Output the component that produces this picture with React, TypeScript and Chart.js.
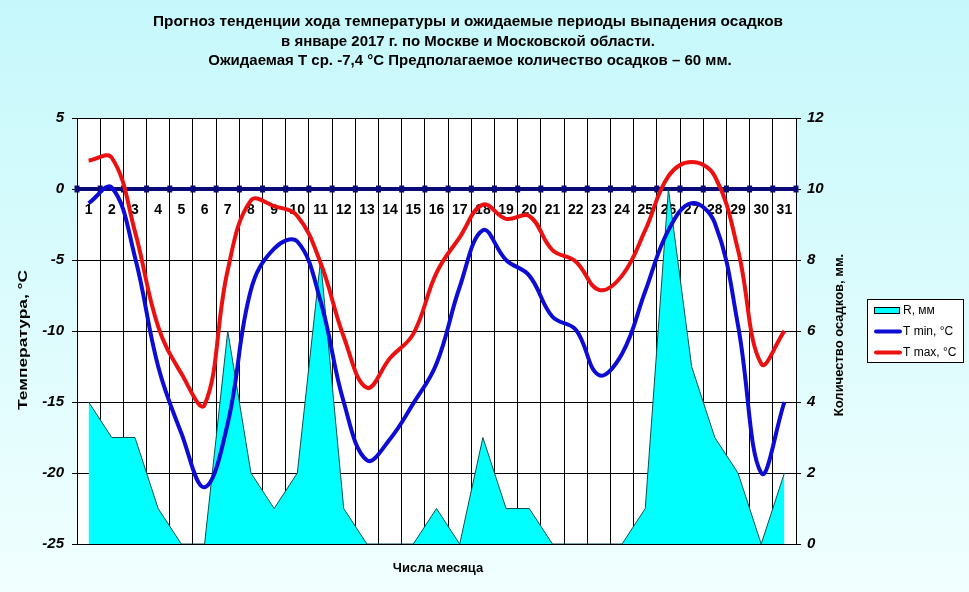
import React, { useEffect, useRef } from 'react';
import { Chart, registerables } from 'chart.js';

Chart.register(...registerables);

const days = ['1','2','3','4','5','6','7','8','9','10','11','12','13','14','15','16','17','18','19','20','21','22','23','24','25','26','27','28','29','30','31'];

const tMax = [2.0, 2.2, -3.0, -9.7, -13.0, -15.2, -5.7, -0.8, -1.2, -1.9, -5.2, -10.4, -14.0, -11.9, -10.2, -5.9, -3.4, -1.1, -2.1, -1.9, -4.3, -5.1, -7.1, -6.1, -2.9, 0.9, 1.9, 0.9, -4.3, -12.3, -10.0];
const tMin = [-1.0, 0.1, -4.8, -12.5, -17.2, -21.0, -16.5, -7.1, -4.2, -3.7, -7.9, -15.0, -19.1, -17.6, -15.1, -12.3, -6.9, -2.9, -5.0, -6.1, -9.0, -9.9, -13.1, -11.6, -7.2, -2.9, -1.0, -2.4, -9.6, -20.0, -15.0];
const precip = [4, 3, 3, 1, 0, 0, 6, 2, 1, 2, 8, 1, 0, 0, 0, 1, 0, 3, 1, 1, 0, 0, 0, 0, 1, 10, 5, 3, 2, 0, 2];

const titleLines = [
  'Прогноз тенденции хода температуры и ожидаемые периоды выпадения осадков',
  'в январе 2017 г. по Москве и Московской области.',
  'Ожидаемая Т ср. -7,4 °С Предполагаемое количество осадков – 60 мм.',
];
const leftTitle = 'Температура, °C';
const rightTitle = 'Количество осадков, мм.';
const xTitle = 'Числа месяца';
const legendLabels = ['R, мм', 'T min, °C', 'T max, °C'];

const FONT = '"Liberation Sans", Arial, sans-serif';
const NAVY = '#0a0a78';
const BLUE = '#0c0cd4';
const RED = '#ec1111';
const CYAN = '#00ffff';

const W = 969;
const H = 592;

const bgPlugin = {
  id: 'bg',
  beforeDraw(chart: any) {
    const { ctx, chartArea } = chart;
    ctx.save();
    const g = ctx.createLinearGradient(0, 0, 0, H);
    g.addColorStop(0, '#c6f8fb');
    g.addColorStop(1, '#f1ffff');
    ctx.fillStyle = g;
    ctx.fillRect(0, 0, W, H);
    ctx.fillStyle = '#ffffff';
    ctx.fillRect(chartArea.left, chartArea.top, chartArea.right - chartArea.left, chartArea.bottom - chartArea.top);
    ctx.restore();
  },
  beforeDatasetsDraw(chart: any) {
    const { ctx, chartArea, scales } = chart;
    const y0 = scales.y.getPixelForValue(0);
    const n = days.length;
    const step = (chartArea.right - chartArea.left) / n;
    ctx.save();
    ctx.fillStyle = NAVY;
    for (let i = 0; i <= n; i++) {
      const x = chartArea.left + i * step;
      ctx.fillRect(x - 2.5, y0 - 3.5, 5, 7);
    }
    ctx.restore();
  },
};

function drawText(ctx: any, text: string, x: number, y: number, font: string, rot = 0, align = 'center', fitWidth = 0) {
  ctx.save();
  ctx.translate(x, y);
  if (rot) ctx.rotate(rot);
  ctx.font = font;
  if (fitWidth) {
    const m = ctx.measureText(text).width;
    if (m > 0) ctx.scale(fitWidth / m, 1);
  }
  ctx.fillStyle = '#000';
  ctx.textAlign = align;
  ctx.textBaseline = 'middle';
  ctx.fillText(text, 0, 0);
  ctx.restore();
}

const textPlugin = {
  id: 'texts',
  afterDraw(chart: any) {
    const { ctx } = chart;
    const tf = `bold 15px ${FONT}`;
    drawText(ctx, titleLines[0], 468, 22, tf, 0, 'center', 630);
    drawText(ctx, titleLines[1], 468, 42, tf);
    drawText(ctx, titleLines[2], 470, 61, tf);
    drawText(ctx, xTitle, 438, 568, `bold 13px ${FONT}`);
    drawText(ctx, leftTitle, 23, 340, `bold 13px ${FONT}`, -Math.PI / 2, 'center', 140);
    drawText(ctx, rightTitle, 839, 335, `bold 13px ${FONT}`, -Math.PI / 2);

    // legend
    ctx.save();
    ctx.fillStyle = '#ffffff';
    ctx.fillRect(867, 299, 97, 64);
    ctx.strokeStyle = '#000';
    ctx.lineWidth = 1;
    ctx.strokeRect(867.5, 299.5, 96, 63);
    ctx.fillStyle = CYAN;
    ctx.fillRect(874.5, 307.5, 25, 6);
    ctx.strokeRect(874.5, 307.5, 25, 6);
    ctx.lineCap = 'round';
    ctx.lineWidth = 4;
    ctx.strokeStyle = BLUE;
    ctx.beginPath();
    ctx.moveTo(876, 331.5);
    ctx.lineTo(900, 331.5);
    ctx.stroke();
    ctx.strokeStyle = RED;
    ctx.beginPath();
    ctx.moveTo(876, 352.5);
    ctx.lineTo(900, 352.5);
    ctx.stroke();
    ctx.restore();
    const lf = `12px ${FONT}`;
    drawText(ctx, legendLabels[0], 903, 311, lf, 0, 'left');
    drawText(ctx, legendLabels[1], 903, 332, lf, 0, 'left');
    drawText(ctx, legendLabels[2], 903, 353, lf, 0, 'left');
  },
};

export default function App() {
  const ref = useRef<HTMLCanvasElement | null>(null);
  useEffect(() => {
    document.body.style.margin = '0';
    const canvas = ref.current!;
    const chart = new Chart(canvas, {
      type: 'line',
      data: {
        labels: days,
        datasets: [
          {
            label: legendLabels[2],
            data: tMax,
            yAxisID: 'y',
            borderColor: RED,
            borderWidth: 4,
            pointRadius: 0,
            tension: 0.4,
            fill: false,
            order: 1,
          },
          {
            label: legendLabels[1],
            data: tMin,
            yAxisID: 'y',
            borderColor: BLUE,
            borderWidth: 4,
            pointRadius: 0,
            tension: 0.4,
            fill: false,
            order: 2,
          },
          {
            label: legendLabels[0],
            data: precip,
            yAxisID: 'y2',
            borderColor: '#0f5050',
            borderWidth: 1,
            backgroundColor: CYAN,
            pointRadius: 0,
            tension: 0,
            fill: 'origin',
            order: 10,
          },
        ],
      },
      options: {
        responsive: false,
        animation: false,
        devicePixelRatio: 1,
        layout: { padding: { top: 118, bottom: 48, left: 0, right: 0 } },
        plugins: {
          legend: { display: false },
          title: { display: false },
          tooltip: { enabled: false },
        },
        scales: {
          x: {
            type: 'category',
            position: { y: 0 } as any,
            offset: true,
            grid: { color: '#000', lineWidth: 1, offset: true, drawTicks: false },
            border: { color: NAVY, width: 4 },
            ticks: {
              color: '#000',
              font: { family: FONT, size: 14, weight: 'bold' },
              padding: 13,
              maxRotation: 0,
              autoSkip: false,
            },
          },
          y: {
            position: 'left',
            min: -25,
            max: 5,
            afterFit: (s: any) => { s.width = 77; },
            grid: {
              color: (c: any) => (c.tick && c.tick.value === 0 ? 'rgba(0,0,0,0)' : '#000'),
              lineWidth: 1,
              drawTicks: true,
              tickLength: 5,
              tickColor: '#000',
            },
            border: { color: '#000', width: 1 },
            ticks: {
              stepSize: 5,
              color: '#000',
              padding: 8,
              font: { family: FONT, size: 15, weight: 'bold', style: 'italic' },
            },
          },
          y2: {
            position: 'right',
            min: 0,
            max: 12,
            afterFit: (s: any) => { s.width = 173; },
            grid: { drawOnChartArea: false, drawTicks: true, tickLength: 5, tickColor: '#000', color: '#000' },
            border: { color: '#000', width: 1 },
            ticks: {
              stepSize: 2,
              color: '#000',
              padding: 6,
              font: { family: FONT, size: 15, weight: 'bold', style: 'italic' },
            },
          },
        },
      } as any,
      plugins: [bgPlugin, textPlugin],
    });
    return () => chart.destroy();
  }, []);
  return <canvas ref={ref} width={W} height={H} style={{ display: 'block' }} />;
}
